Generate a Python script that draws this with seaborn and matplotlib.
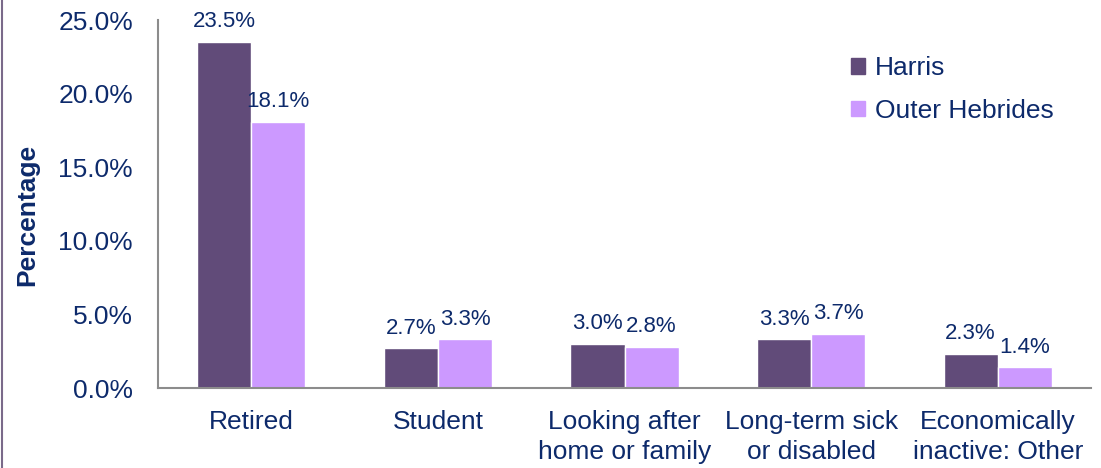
import pandas as pd
import matplotlib
matplotlib.use("Agg")
import matplotlib.pyplot as plt
import seaborn as sns
from matplotlib.lines import Line2D

# data
categories = ["Retired", "Student", "Looking after\nhome or family",
              "Long-term sick\nor disabled", "Economically\ninactive: Other"]
harris = [23.5, 2.7, 3.0, 3.3, 2.3]
outer_hebrides = [18.1, 3.3, 2.8, 3.7, 1.4]
series = ["Harris", "Outer Hebrides"]
colors = ["#614B79", "#CC99FF"]
text_col = "#0D2A6B"

df = pd.DataFrame({
    "category": categories * 2,
    "area": [series[0]] * 5 + [series[1]] * 5,
    "value": harris + outer_hebrides,
})

sns.set_style("white")
plt.rcParams["font.family"] = ["Liberation Sans", "DejaVu Sans"]

fig = plt.figure(figsize=(11.01, 4.68), dpi=100)
ax = fig.add_axes([158 / 1101, 1 - 388 / 468, (1091 - 158) / 1101, (388 - 20) / 468])

sns.barplot(data=df, x="category", y="value", hue="area", palette=colors,
            width=0.58, saturation=1, ax=ax, legend=False)

for cont in ax.containers:
    ax.bar_label(cont, labels=[f"{v:.1f}%" for v in cont.datavalues],
                 padding=7, fontsize=16, color=text_col)

ax.set_ylim(0, 25)
ax.set_xlim(-0.5, 4.5)
ax.set_yticks([0, 5, 10, 15, 20, 25])
ax.set_yticklabels([f"{t:.1f}%" for t in [0, 5, 10, 15, 20, 25]])
ax.tick_params(axis="both", labelsize=19, labelcolor=text_col, length=0)
ax.tick_params(axis="y", pad=18)
ax.tick_params(axis="x", pad=16)
for lbl in ax.get_xticklabels():
    lbl.set_linespacing(1.3)
ax.set_xlabel("")
ax.set_ylabel("Percentage", fontsize=19, fontweight="bold", color=text_col, labelpad=14)
ax.yaxis.label.set_y(0.47)

sns.despine(ax=ax)
for s in ["left", "bottom"]:
    ax.spines[s].set_color("#8C8C8C")
    ax.spines[s].set_linewidth(1.5)

handles = [plt.Rectangle((0, 0), 1, 1, color=c) for c in colors]
ax.legend(handles, series, loc="upper left", bbox_to_anchor=(0.729, 0.937),
          frameon=False, fontsize=19, labelcolor=text_col, borderpad=0,
          handlelength=0.5, handleheight=0.5, handletextpad=0.4, labelspacing=0.7)

# thin purple border line at the left edge of the image
fig.add_artist(Line2D([0.002, 0.002], [0, 1], color="#7A6A8A", linewidth=1.5))

fig.savefig("out.png", dpi=100)
